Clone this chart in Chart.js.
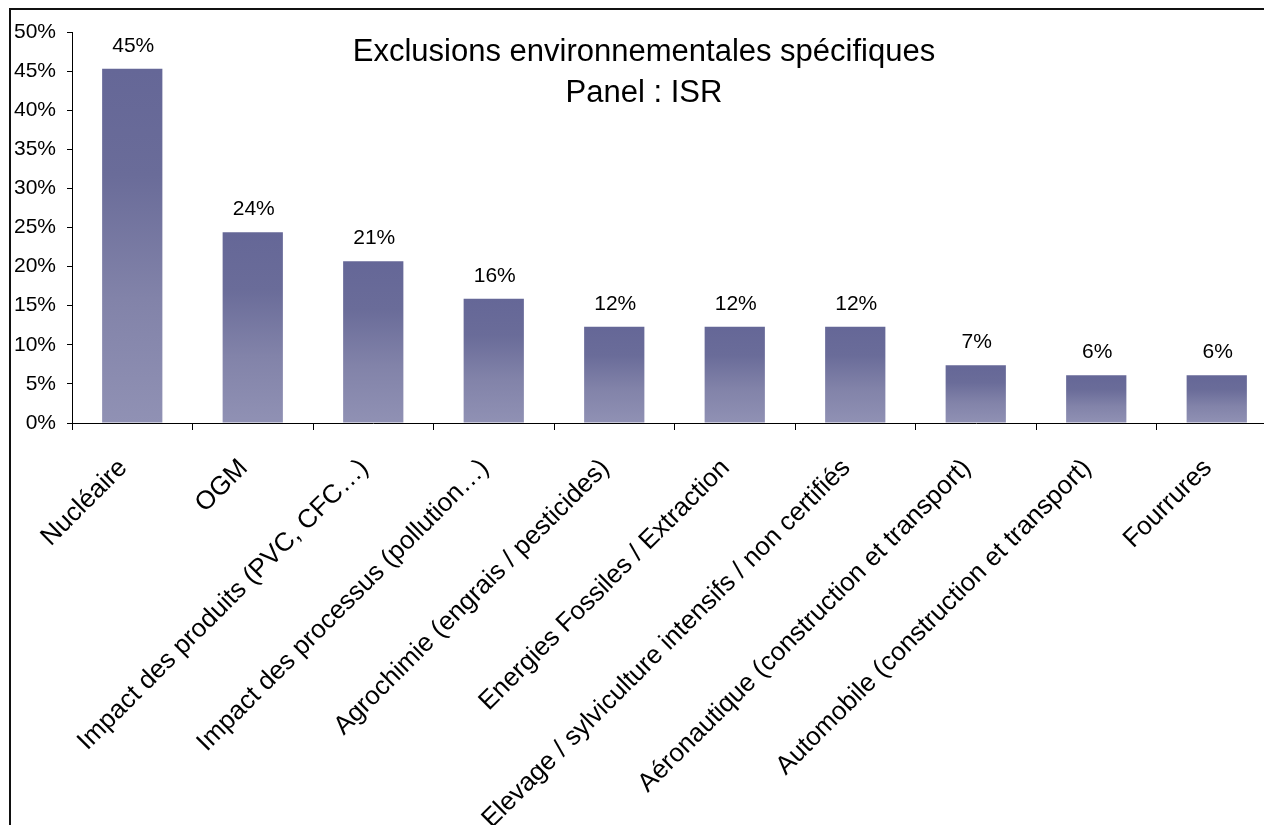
<!DOCTYPE html>
<html lang="fr">
<head>
<meta charset="utf-8">
<title>Exclusions environnementales spécifiques</title>
<script src="https://cdn.jsdelivr.net/npm/chart.js@4.4.1/dist/chart.umd.min.js"></script>
<style>
  html, body { margin: 0; padding: 0; background: #fff; overflow: hidden; width: 1264px; height: 825px; }
  #wrap { position: absolute; left: 0; top: 0; width: 1290px; height: 825px; }
  #frame { position: absolute; left: 9px; top: 8px; width: 1300px; height: 900px;
           border-top: 2px solid #111; border-left: 2px solid #111; pointer-events: none; }
</style>
</head>
<body>
<div id="wrap"><canvas id="c" width="1290" height="825"></canvas></div>
<div id="frame"></div>
<script>
// Categories and shares of the ISR panel
const categories = [
  'Nucléaire',
  'OGM',
  'Impact des produits (PVC, CFC…)',
  'Impact des processus (pollution…)',
  'Agrochimie (engrais / pesticides)',
  'Energies Fossiles / Extraction',
  'Elevage / sylviculture intensifs / non certifiés',
  'Aéronautique (construction et transport)',
  'Automobile (construction et transport)',
  'Fourrures'
];
const shares = [45.3, 24.4, 20.7, 15.9, 12.3, 12.3, 12.3, 7.4, 6.1, 6.1];
const titleLines = ['Exclusions environnementales spécifiques', 'Panel : ISR'];
const yTickValues = [0, 5, 10, 15, 20, 25, 30, 35, 40, 45, 50];

const FONT = '"Liberation Sans", Arial, Helvetica, sans-serif';

// Vertical shading of each bar, from its own top down to the baseline
function barFill(ctx) {
  const chart = ctx.chart;
  const y = chart.scales && chart.scales.y;
  if (!y || ctx.type !== 'data' || y.top === undefined) return '#6a6c99';
  const t = y.getPixelForValue(ctx.raw);
  const b = y.getPixelForValue(0);
  if (!isFinite(t) || !isFinite(b) || b - t < 1) return '#6a6c99';
  const g = chart.ctx.createLinearGradient(0, t, 0, b);
  g.addColorStop(0, '#656797');
  g.addColorStop(0.3, '#6a6c99');
  g.addColorStop(0.65, '#8283a9');
  g.addColorStop(1, '#9091b4');
  return g;
}

// Percent labels above the bars
const valueLabels = {
  id: 'valueLabels',
  afterDatasetsDraw(chart) {
    const ctx = chart.ctx;
    const meta = chart.getDatasetMeta(0);
    ctx.save();
    ctx.font = '21px ' + FONT;
    ctx.fillStyle = '#000';
    ctx.textAlign = 'center';
    ctx.textBaseline = 'alphabetic';
    meta.data.forEach((bar, i) => {
      ctx.fillText(Math.round(shares[i]) + '%', bar.x + 1, bar.y - 17);
    });
    ctx.restore();
  }
};

// Two-line title drawn inside the plot area
const innerTitle = {
  id: 'innerTitle',
  afterDraw(chart) {
    const ctx = chart.ctx;
    ctx.save();
    ctx.font = '31px ' + FONT;
    ctx.fillStyle = '#000';
    ctx.textAlign = 'center';
    ctx.textBaseline = 'middle';
    ctx.fillText(titleLines[0], 644, 52);
    ctx.fillText(titleLines[1], 644, 93);
    ctx.restore();
  }
};

new Chart(document.getElementById('c'), {
  type: 'bar',
  data: {
    labels: categories,
    datasets: [{
      data: shares,
      backgroundColor: barFill,
      borderWidth: 0,
      categoryPercentage: 1,
      barPercentage: 0.5
    }]
  },
  options: {
    responsive: false,
    animation: false,
    devicePixelRatio: 1,
    layout: { padding: { top: 32, right: 13, left: 0, bottom: 0 } },
    plugins: {
      legend: { display: false },
      tooltip: { enabled: false },
      title: { display: false }
    },
    scales: {
      x: {
        offset: true,
        border: { display: true, color: '#000', width: 1 },
        grid: {
          offset: true,
          drawOnChartArea: false,
          drawTicks: true,
          tickLength: 7,
          color: '#000'
        },
        ticks: {
          autoSkip: false,
          minRotation: 45,
          maxRotation: 45,
          padding: 23,
          labelOffset: -9,
          color: '#000',
          font: { family: FONT, size: 26 }
        },
        afterFit(scale) { scale.height = 402; }
      },
      y: {
        min: 0,
        max: 50,
        border: { display: true, color: '#000', width: 1 },
        grid: {
          drawOnChartArea: false,
          drawTicks: true,
          tickLength: 5,
          color: '#000'
        },
        afterBuildTicks(scale) {
          scale.ticks = yTickValues.map(v => ({ value: v }));
        },
        afterFit(scale) { scale.width = 72; },
        ticks: {
          padding: 11,
          color: '#000',
          font: { family: FONT, size: 21 },
          callback: v => v + '%'
        }
      }
    }
  },
  plugins: [valueLabels, innerTitle]
});
</script>
</body>
</html>
